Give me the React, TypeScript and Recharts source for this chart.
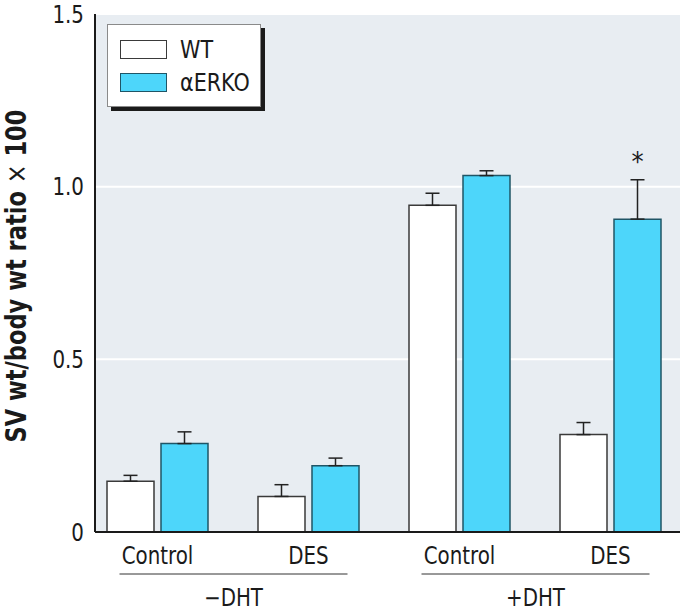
import React from 'react';
import { BarChart, Bar, XAxis, YAxis, CartesianGrid, ErrorBar, Legend, LabelList } from 'recharts';

const categories = ['Control', 'DES', 'Control', 'DES'];
const groups = ['−DHT', '−DHT', '+DHT', '+DHT'];
const wtValues = [0.147, 0.103, 0.946, 0.282];
const wtErrors = [0.017, 0.034, 0.035, 0.035];
const erkoValues = [0.256, 0.192, 1.032, 0.906];
const erkoErrors = [0.034, 0.022, 0.014, 0.114];
const significance = ['', '', '', '*'];
const yTicks = [0, 0.5, 1.0, 1.5];
const yTickLabels = ['0', '0.5', '1.0', '1.5'];

const data = categories.map((c, i) => ({
  key: `${groups[i]} ${c}`,
  wt: wtValues[i],
  wtErr: [0, wtErrors[i]],
  erko: erkoValues[i],
  erkoErr: [0, erkoErrors[i]],
  sig: significance[i],
}));

const W = 680;
const H = 613;
const Y_AXIS_W = 95;
const X_AXIS_H = 81;
const PAD_L = -13;
const PAD_R = -6;
const BAND = (W - Y_AXIS_W - PAD_L - PAD_R) / categories.length;

const FONT = "'Liberation Sans Narrow', 'Arial Narrow', 'DejaVu Sans Condensed', 'Roboto Condensed', sans-serif";
const INK = '#1a1a1a';
const BLUE = '#4dd6fa';
const BLUE_STROKE = '#1f5566';
const WT_STROKE = '#3a3a3a';
const BG = '#e8edf2';
const SQUEEZE = 0.92;

const seriesStroke: Record<string, string> = { WT: WT_STROKE, 'αERKO': BLUE_STROKE };

function NarrowText({ x, y, children, anchor = 'middle', size = 24, dy }: any) {
  return (
    <g transform={`translate(${x},${y}) scale(${SQUEEZE},1)`}>
      <text x={0} y={0} dy={dy} textAnchor={anchor} fontFamily={FONT} fontSize={size} fill={INK}>
        {children}
      </text>
    </g>
  );
}

function XTick(props: any) {
  const { x, y, index } = props;
  const els: any[] = [
    <NarrowText key="c" x={x} y={y + 32}>
      {categories[index]}
    </NarrowText>,
  ];
  if (index === 0 || groups[index] !== groups[index - 1]) {
    const x1 = x - 38;
    const x2 = x + BAND + 39;
    els.push(
      <line key="l" x1={x1} x2={x2} y1={y + 42} y2={y + 42} stroke="#333" strokeWidth={1} />,
      <NarrowText key="g" x={(x1 + x2) / 2} y={y + 74}>
        {groups[index]}
      </NarrowText>
    );
  }
  return <g>{els}</g>;
}

function YTick(props: any) {
  const { x, y, index } = props;
  return (
    <NarrowText x={x} y={y} dy="0.36em" anchor="end">
      {yTickLabels[index]}
    </NarrowText>
  );
}

function YLabel() {
  return (
    <text
      transform="translate(16,276) rotate(-90)"
      textAnchor="middle"
      dominantBaseline="central"
      fontFamily={FONT}
      fontSize={28}
      fontWeight="bold"
      fill={INK}
      textLength={333}
      lengthAdjust="spacingAndGlyphs"
    >
      SV wt/body wt ratio <tspan fontWeight="normal">×</tspan> 100
    </text>
  );
}

function LegendBox(props: any) {
  const payload = props.payload || [];
  return (
    <div
      style={{
        position: 'relative',
        width: 154,
        height: 83,
        boxSizing: 'border-box',
        border: '1px solid #8a8a8a',
        background: '#fff',
        boxShadow: '4px 4px 0 #1b1b1b',
        fontFamily: FONT,
      }}
    >
      {payload.map((entry: any, i: number) => (
        <div key={i}>
          <div
            style={{
              position: 'absolute',
              left: 12,
              top: 15 + i * 33,
              width: 47,
              height: 19,
              boxSizing: 'border-box',
              background: entry.color,
              border: `1.5px solid ${seriesStroke[entry.value] || '#333'}`,
            }}
          />
          <div
            style={{
              position: 'absolute',
              left: 72,
              top: 15 + i * 33,
              lineHeight: '19px',
              fontSize: 25,
              color: INK,
              whiteSpace: 'nowrap',
              transform: `scaleX(${SQUEEZE})`,
              transformOrigin: 'left center',
            }}
          >
            {entry.value}
          </div>
        </div>
      ))}
    </div>
  );
}

function Asterisk(p: any) {
  if (!p.value) return null;
  return (
    <text x={p.x + p.width / 2} y={p.y - 48} textAnchor="middle" fontFamily={FONT} fontSize={27} fill={INK}>
      {p.value}
    </text>
  );
}

export default function App() {
  return (
    <div style={{ position: 'absolute', left: 0, top: 0, width: W, height: H, background: '#fff' }}>
      <BarChart
        width={W}
        height={H}
        data={data}
        margin={{ top: 14, right: 0, bottom: 0, left: 0 }}
        barSize={47}
        barGap={7}
      >
        <CartesianGrid vertical={false} stroke="#ffffff" strokeWidth={2} fill={BG} />
        <XAxis
          dataKey="key"
          height={X_AXIS_H}
          padding={{ left: PAD_L, right: PAD_R }}
          axisLine={{ stroke: INK, strokeWidth: 2 }}
          tickLine={false}
          tickSize={0}
          tickMargin={0}
          tick={<XTick />}
          interval={0}
        />
        <YAxis
          width={Y_AXIS_W}
          domain={[0, 1.5]}
          ticks={yTicks}
          axisLine={{ stroke: INK, strokeWidth: 2 }}
          tickLine={false}
          tickSize={0}
          tickMargin={11}
          tick={<YTick />}
          label={{ content: () => <YLabel /> }}
        />
        <Legend
          layout="vertical"
          align="center"
          verticalAlign="middle"
          wrapperStyle={{ left: 107, top: 24, width: 160, height: 90 }}
          content={<LegendBox />}
        />
        <Bar dataKey="wt" name="WT" fill="#ffffff" stroke={WT_STROKE} strokeWidth={1.5} isAnimationActive={false}>
          <ErrorBar dataKey="wtErr" direction="y" width={7} stroke="#222" strokeWidth={1.5} />
        </Bar>
        <Bar dataKey="erko" name="αERKO" fill={BLUE} stroke={BLUE_STROKE} strokeWidth={1.5} isAnimationActive={false}>
          <ErrorBar dataKey="erkoErr" direction="y" width={7} stroke="#222" strokeWidth={1.5} />
          <LabelList dataKey="sig" content={<Asterisk />} />
        </Bar>
      </BarChart>
    </div>
  );
}
